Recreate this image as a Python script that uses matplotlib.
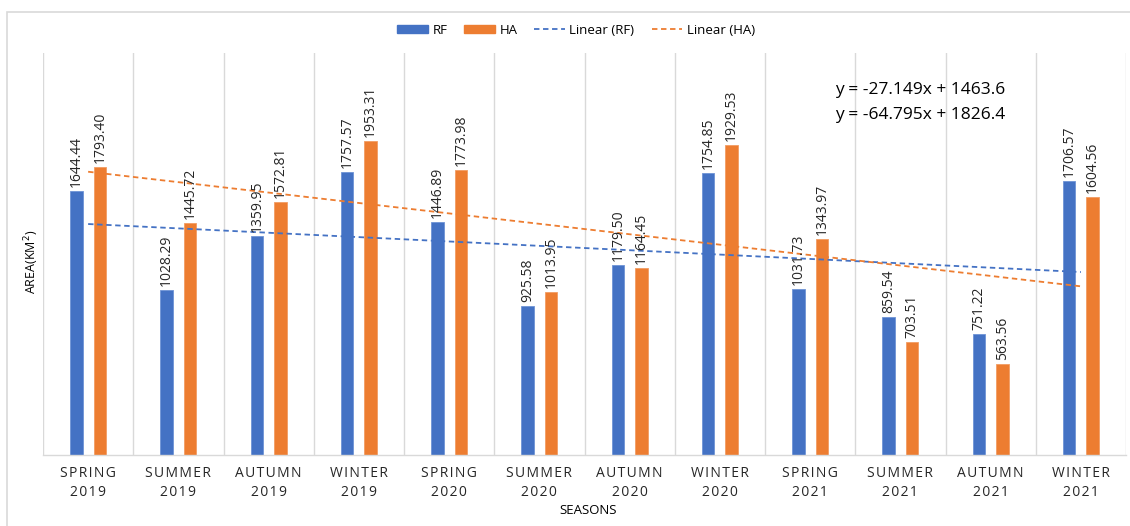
import numpy as np
import matplotlib
matplotlib.use("Agg")
import matplotlib.pyplot as plt
from matplotlib.patches import Rectangle
from matplotlib.lines import Line2D

plt.rcParams['font.family'] = ['Open Sans', 'DejaVu Sans']

seasons = ["SPRING\n2019", "SUMMER\n2019", "AUTUMN\n2019", "WINTER\n2019",
           "SPRING\n2020", "SUMMER\n2020", "AUTUMN\n2020", "WINTER\n2020",
           "SPRING\n2021", "SUMMER\n2021", "AUTUMN\n2021", "WINTER\n2021"]
rf = [1644.44, 1028.29, 1359.95, 1757.57, 1446.89, 925.58,
      1179.50, 1754.85, 1031.73, 859.54, 751.22, 1706.57]
ha = [1793.40, 1445.72, 1572.81, 1953.31, 1773.98, 1013.95,
      1164.45, 1929.53, 1343.97, 703.51, 563.56, 1604.56]
# linear trend (slope, intercept) over season index 1..12
trend_rf = (-27.149, 1463.6)
trend_ha = (-64.795, 1826.4)

blue = "#4472C4"
orange = "#ED7D31"
grid = "#D9D9D9"


def spaced(s):
    # widen tick labels a little with hair spaces between letters
    return "\n".join("\u200a".join(line) for line in s.split("\n"))


x = np.arange(1, len(seasons) + 1)
w = 0.14
off = 0.13

fig = plt.figure(figsize=(11.3, 5.26), dpi=100)
ax = fig.add_axes([43 / 1130, 71 / 526, 1083 / 1130, 402 / 526])

# outer chart border
fig.patches.append(Rectangle((7 / 1130, -0.05), 1.2, 0.05 + (526 - 12) / 526,
                             transform=fig.transFigure, fill=False,
                             edgecolor=grid, linewidth=1.2))

ax.bar(x - off, rf, w, color=blue, edgecolor="#6E93D6", linewidth=0.6, zorder=2)
ax.bar(x + off, ha, w, color=orange, edgecolor="#F29C63", linewidth=0.6, zorder=2)

for xi, v in zip(x, rf):
    ax.text(xi - off, v + 25, f"{v:.2f}", rotation=90, ha="center", va="bottom",
            fontsize=10, color="#262626", zorder=4)
for xi, v in zip(x, ha):
    ax.text(xi + off, v + 25, f"{v:.2f}", rotation=90, ha="center", va="bottom",
            fontsize=10, color="#262626", zorder=4)

# linear trendlines
for (m, b), col in [(trend_rf, blue), (trend_ha, orange)]:
    ax.plot(x, m * x + b, linestyle=(0, (3, 2)), color=col, linewidth=1.3, zorder=3)

for i, (m, b) in enumerate([trend_rf, trend_ha]):
    ax.text(835 / 1130, (526 - 90 - i * 25) / 526, f"y = {m:.3f}x + {b:.1f}",
            transform=fig.transFigure, fontsize=12.5, va="center", ha="left",
            color="#000000")

ax.set_xlim(0.5, len(seasons) + 0.5)
ax.set_ylim(0, 2500)
for b in np.arange(0.5, len(seasons) + 1):
    ax.axvline(b, color=grid, linewidth=1, zorder=1)

ax.set_xticks(x)
ax.set_xticklabels([spaced(s) for s in seasons], fontsize=10, color="#262626",
                   linespacing=1.35)
ax.tick_params(axis="x", length=0, pad=8)
ax.set_yticks([])
for s in ["top", "right", "left"]:
    ax.spines[s].set_visible(False)
ax.spines["bottom"].set_color(grid)
ax.spines["bottom"].set_linewidth(1)

fig.text(588 / 1130, (526 - 511) / 526, "SEASONS", ha="center", va="center",
         fontsize=9.5, color="#000000")
fig.text(32 / 1130, (526 - 262) / 526, "AREA(KM$^2$)", rotation=90, ha="center",
         va="center", fontsize=9, color="#000000")

handles = [Rectangle((0, 0), 1, 1, color=blue),
           Rectangle((0, 0), 1, 1, color=orange),
           Line2D([], [], color=blue, linestyle=(0, (3, 2)), linewidth=1.3),
           Line2D([], [], color=orange, linestyle=(0, (3, 2)), linewidth=1.3)]
fig.legend(handles, ["RF", "HA", "Linear (RF)", "Linear (HA)"], ncol=4,
           loc="center", bbox_to_anchor=(576 / 1130, (526 - 30) / 526),
           frameon=False, fontsize=9.5, handlelength=2.3, handleheight=0.6,
           columnspacing=1.3, handletextpad=0.35)

fig.savefig("out.png", dpi=100)
